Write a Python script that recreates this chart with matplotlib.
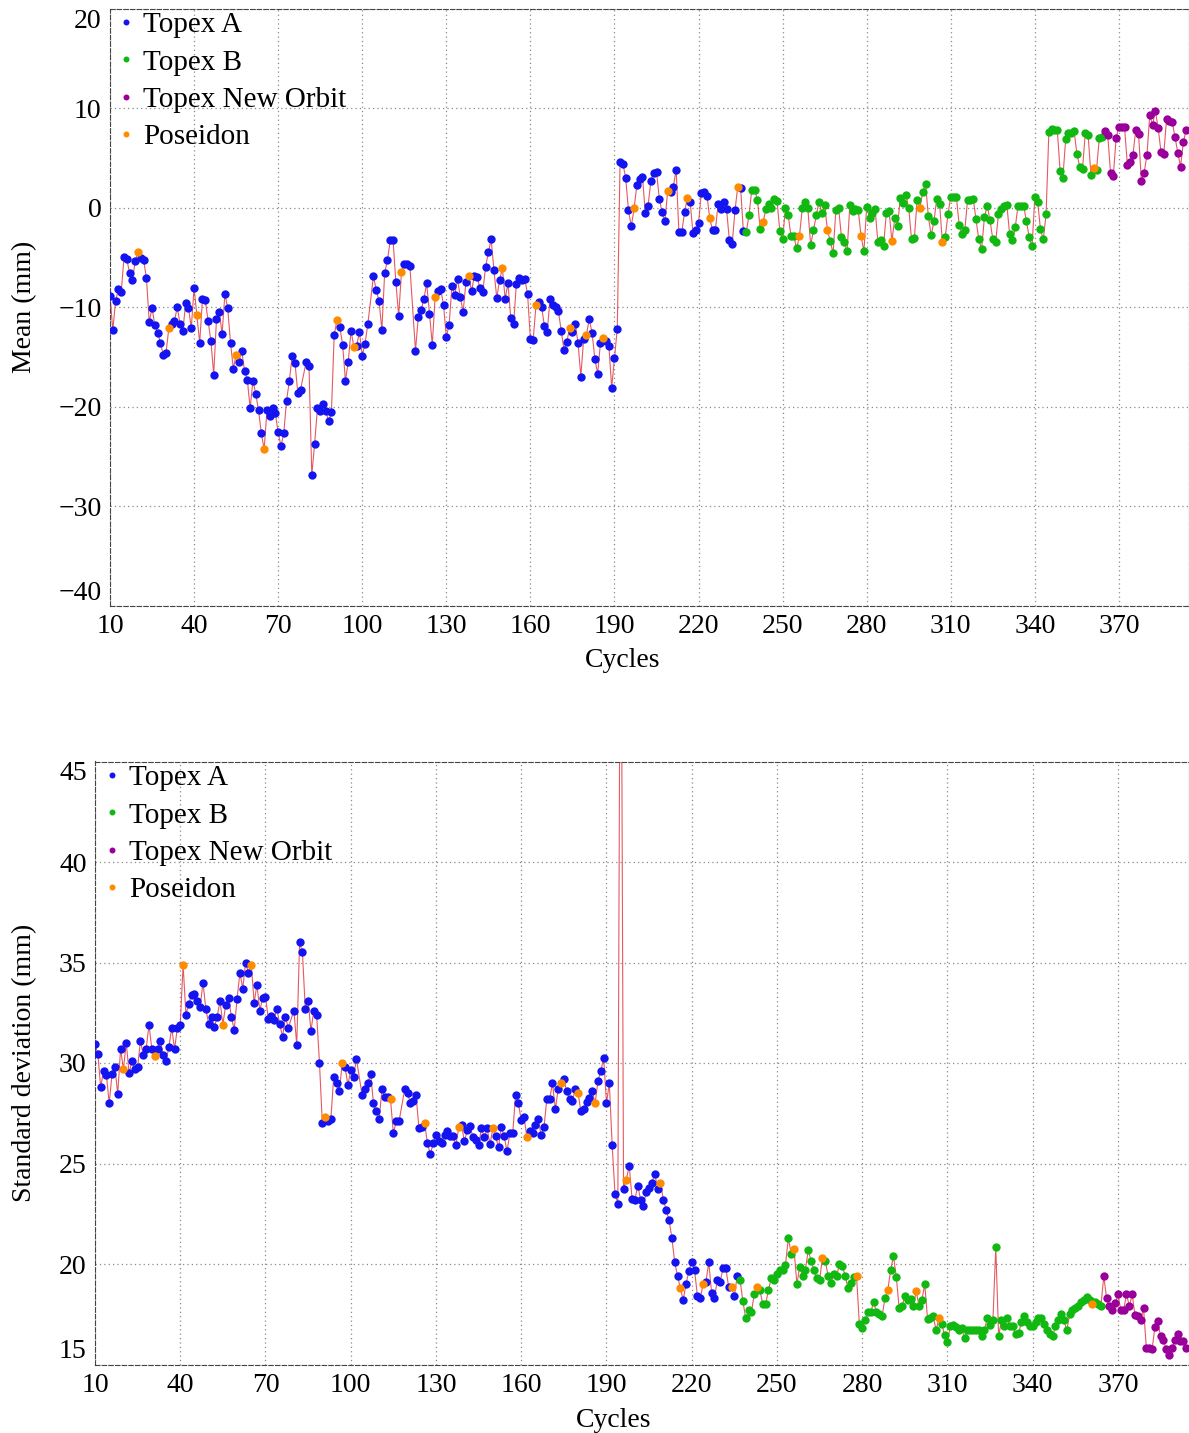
import numpy as np
import matplotlib
matplotlib.use('Agg')
import matplotlib.pyplot as plt
from matplotlib.lines import Line2D

plt.rcParams['font.family'] = ['Liberation Serif', 'DejaVu Serif']
plt.rcParams['axes.unicode_minus'] = True

# ---------------- data ----------------
cycles = np.arange(10, 395)

mean_mm = [
    -8.9, -12.3, -9.4, -8.2, -8.5, -5.0, -5.2, -6.6, -7.3, -5.4,
    -4.5, -5.1, -5.3, -7.1, -11.5, -10.1, -11.8, -12.6, -13.6, -14.8,
    -14.6, -12.1, -11.7, -11.4, -10.0, -11.7, -12.4, -9.6, -10.1, -12.1,
    -8.1, -10.8, -13.6, -9.2, -9.3, -11.4, -13.4, -16.8, -11.2, -10.5,
    -12.7, -8.7, -10.1, -13.6, -16.2, -14.8, -15.5, -14.4, -16.4, -17.3,
    -20.2, -17.4, -18.7, -20.4, -22.7, -24.3, -20.4, -21.0, -20.2, -20.7,
    -22.6, -24.0, -22.7, -19.4, -17.4, -14.9, -15.6, -18.6, -18.3, None,
    -15.5, -15.9, -26.9, -23.8, -20.2, -20.5, -19.7, -20.5, -21.5, -20.6,
    -12.8, -11.3, -12.0, -13.8, -17.4, -15.5, -12.4, -14.0, -13.9, -12.5,
    -14.9, -13.7, -11.7, None, -6.9, -8.3, -9.4, -12.3, -6.6, -5.3,
    -3.3, -3.3, -7.5, -10.9, -6.5, -5.7, -5.7, -5.9, None, -14.4,
    -11.0, -10.3, -9.2, -7.6, -10.7, -13.8, -9.0, -8.4, -8.2, -9.8,
    -13.0, -11.8, -7.9, -8.8, -7.2, -9.0, -10.5, -7.5, -6.9, -8.4,
    -6.9, -7.0, -8.1, -8.5, -6.0, -4.5, -3.2, -6.3, -9.1, -7.3,
    -6.1, -9.2, -7.6, -11.1, -11.7, -7.7, -7.1, -7.3, -7.2, -8.7,
    -13.2, -13.3, -9.8, -9.5, -10.0, -11.9, -12.5, -9.2, -9.8, -10.0,
    -10.4, -12.4, -14.3, -13.5, -12.1, -12.5, -11.7, -13.6, -17.0, -13.2,
    -12.8, -11.2, -12.6, -15.2, -16.7, -13.6, -13.1, -13.4, -13.9, -18.1,
    -15.1, -12.2, 4.6, 4.4, 3.0, -0.3, -1.9, -0.1, 2.3, 2.9,
    3.1, -0.6, 0.2, 2.7, 3.5, 3.6, 0.9, -0.5, -1.4, 1.7,
    1.6, 2.1, 3.8, -2.5, -2.5, -0.5, 1.0, 0.6, -2.6, -2.3,
    -1.6, 1.5, 1.6, 1.2, -1.1, -2.3, -2.3, 0.4, -0.2, 0.6,
    -0.2, -3.3, -3.7, -0.3, 2.1, 2.0, -2.4, -2.5, -0.8, 1.8,
    1.8, 0.8, -2.2, -1.5, -0.2, 0.4, -0.1, 0.9, 0.7, -2.4,
    -3.2, -0.1, -0.8, -2.9, -2.9, -4.1, -2.9, -0.1, 0.6, -0.1,
    -3.8, -2.3, -0.8, 0.6, -0.6, 0.3, -2.3, -3.4, -4.6, -0.3,
    -0.1, -3.0, -3.5, -4.4, 0.3, -0.4, -0.2, -0.3, -2.9, -4.4,
    0.1, -1.1, -0.6, -0.2, -3.5, -3.3, -3.9, -0.6, -0.4, -3.4,
    -1.1, -1.9, 1.0, 0.5, 1.3, -0.1, -3.2, -3.1, 0.8, 0.0,
    1.6, 2.4, -0.9, -2.8, -1.4, 0.9, 0.4, -3.5, -3.0, -0.7,
    1.1, 1.1, 1.1, -1.8, -2.7, -2.3, 0.8, 0.8, 0.9, -1.2,
    -3.2, -4.2, -1.0, 0.2, -1.3, -3.2, -3.5, -0.7, -0.2, 0.2,
    0.3, -2.7, -3.3, -2.0, 0.2, 0.2, 0.2, -1.4, -3.0, -3.9,
    1.1, 0.6, -2.2, -3.2, -0.7, 7.6, 7.9, 7.8, 7.8, 3.7,
    3.0, 6.9, 7.5, 7.5, 7.7, 5.4, 4.1, 3.9, 7.5, 7.3,
    3.3, 4.0, 3.8, 7.0, 7.1, 7.7, 7.3, 3.5, 3.2, 7.0,
    8.1, 8.1, 8.1, 4.3, 4.6, 5.3, 7.8, 7.4, 2.7, 3.5,
    5.3, 9.3, 8.3, 9.7, 8.0, 5.6, 5.4, 8.9, 8.7, 8.6,
    7.1, 5.5, 4.1, 6.6, 7.8,
]

std_mm = [
    30.95, 30.45, 28.8, 29.6, 29.4, 28.0, 29.45, 29.8, 28.45, 30.7,
    29.7, 31.0, 29.5, 30.1, 29.7, 29.8, 31.1, 30.4, 30.7, 31.9,
    30.7, 30.35, 30.7, 31.1, 30.4, 30.1, 30.8, 31.75, 30.7, 31.75,
    31.9, 34.9, 32.4, 32.95, 33.4, 33.45, 33.1, 32.8, 34.0, 32.7,
    31.95, 32.3, 31.8, 32.3, 33.1, 31.9, 32.9, 33.25, 32.3, 31.65,
    33.2, 34.5, 33.7, 35.0, 34.5, 34.9, 33.0, 33.9, 32.6, 33.25,
    33.3, 32.2, 32.35, 32.15, 32.7, 31.95, 31.3, 32.3, 31.75, None,
    32.6, 30.9, 36.0, 35.5, 32.7, 33.1, 31.6, 32.6, 32.4, 30.0,
    27.0, 27.3, 27.1, 27.2, 29.3, 29.0, 28.6, 30.0, 29.8, 28.9,
    29.65, 29.3, 30.2, None, 28.4, 28.7, 29.0, 29.45, 28.0, 27.6,
    27.2, 28.7, 28.3, 28.3, 28.2, 26.5, 27.1, 27.1, None, 28.7,
    28.5, 28.0, 28.1, 28.4, 26.75, 26.8, 27.0, 26.0, 25.45, 26.0,
    26.4, 26.1, 26.0, 26.4, 26.6, 26.35, 26.35, 25.9, 26.8, 26.9,
    26.1, 26.65, 26.85, 26.3, 26.15, 25.9, 26.75, 26.3, 26.75, 25.95,
    26.75, 26.35, 25.8, 26.8, 26.35, 25.6, 26.5, 26.5, 28.4, 28.0,
    27.15, 27.3, 26.3, 26.6, 26.5, 26.9, 27.2, 26.4, 26.8, 28.2,
    28.2, 29.0, 27.7, 28.7, 29.0, 29.2, 28.6, 28.2, 28.1, 28.7,
    28.5, 27.6, 27.7, 28.05, 28.25, 28.6, 28.0, 29.1, 29.6, 30.25,
    28.0, 29.0, 25.9, 23.5, 23.0, 60.0, 23.75, 24.2, 24.9, 23.25,
    23.2, 23.9, 23.2, 22.9, 23.6, 23.8, 24.05, 24.5, 23.75, 24.05,
    23.2, 22.7, 22.2, 21.3, 20.1, 19.4, 18.8, 18.2, 19.0, 19.65,
    20.1, 19.7, 18.4, 18.3, 19.0, 19.1, 20.1, 18.55, 18.3, 19.2,
    19.1, 19.8, 19.8, 18.85, 18.85, 18.4, 19.4, 19.2, 18.15, 17.3,
    17.7, 17.6, 18.5, 18.85, 18.7, 18.0, 18.0, 18.7, 19.3, 19.2,
    19.5, 19.7, 19.7, 19.95, 21.3, 20.5, 20.75, 19.0, 19.85, 19.4,
    19.7, 20.7, 20.15, 19.7, 19.3, 19.2, 20.3, 20.15, 19.4, 19.05,
    19.5, 19.4, 20.0, 19.9, 19.4, 18.8, 19.05, 19.35, 19.4, 17.0,
    16.8, 17.2, 17.6, 17.6, 18.1, 17.6, 17.5, 17.4, 18.3, 18.7,
    19.7, 20.4, 19.35, 17.8, 17.9, 18.4, 18.2, 18.25, 17.9, 18.65,
    17.9, 18.2, 19.0, 17.25, 17.3, 17.4, 16.7, 17.3, 17.0, 16.45,
    16.1, 16.9, 16.95, 16.85, 16.7, 16.8, 16.3, 16.7, 16.7, 16.7,
    16.7, 16.7, 16.4, 16.7, 17.3, 16.95, 17.2, 20.85, 16.4, 17.2,
    16.9, 17.3, 16.9, 16.9, 16.5, 16.55, 17.1, 17.4, 17.1, 16.9,
    16.9, 17.1, 17.3, 17.3, 17.0, 16.7, 16.5, 16.4, 16.9, 17.2,
    17.5, 17.2, 16.7, 17.5, 17.7, 17.8, 17.9, 18.1, 18.2, 18.35,
    18.2, 18.0, 18.1, 18.0, 17.9, 19.4, 18.3, 17.9, 17.7, 18.05,
    18.5, 17.7, 17.7, 18.5, 17.9, 18.5, 17.45, 17.4, 17.2, 17.8,
    15.8, 15.8, 15.75, 16.85, 17.15, 16.4, 16.2, 15.75, 15.45, 15.8,
    16.2, 16.5, 16.15, 16.15, 15.8,
]

poseidon_cycles = [20, 31, 41, 55, 65, 91, 97, 114, 126, 138, 150, 162, 174,
                   180, 186, 197, 209, 216, 224, 234, 243, 256, 266, 278, 289,
                   299, 307, 361]
topex_b_first = 237
new_orbit_first = 365

series_names = ['Topex A', 'Topex B', 'Topex New Orbit', 'Poseidon']
series_colors = ['#1414f0', '#12b812', '#990099', '#ff8c00']
line_color = '#e0303a'

cycle_ticks = [10, 40, 70, 100, 130, 160, 190, 220, 250, 280, 310, 340, 370]
mean_ticks = [-40, -30, -20, -10, 0, 10, 20]
std_ticks = [15, 20, 25, 30, 35, 40, 45]

# mission label for each cycle
mission = np.where(cycles >= new_orbit_first, 'Topex New Orbit',
                   np.where(cycles >= topex_b_first, 'Topex B', 'Topex A')).astype(object)
mission[np.isin(cycles, poseidon_cycles)] = 'Poseidon'

# ---------------- figure ----------------
W, H = 1189, 1433
fig = plt.figure(figsize=(W / 100, H / 100), dpi=100)

ax1 = fig.add_axes([110 / W, 1 - 605.5 / H, (W - 110) / W, 597 / H])
ax2 = fig.add_axes([95 / W, 1 - 1364.5 / H, (W - 95) / W, 603 / H])

FS = 20
LFS = 21


def panel(ax, values, yticks, ylim, legend_xy):
    v = np.array([np.nan if x is None else x for x in values], dtype=float)
    ok = ~np.isnan(v)
    c, vv, lab = cycles[ok], v[ok], mission[ok]
    ax.plot(c, vv, color=line_color, lw=0.8, alpha=0.8, zorder=2)
    for name, col in zip(series_names, series_colors):
        m = lab == name
        ax.plot(c[m], vv[m], 'o', ms=6.0, mew=0, color=col, zorder=3)
    ax.set_xlim(10, 395)
    ax.set_ylim(*ylim)
    ax.set_xticks(cycle_ticks)
    ax.set_yticks(yticks)
    ax.tick_params(length=0, labelsize=FS, pad=6)
    ax.grid(True, color='#8a8a8a', linestyle=(0, (1, 2.5)), linewidth=0.9)
    ax.set_axisbelow(True)
    for s in ax.spines.values():
        s.set_linestyle((0, (4, 2)))
        s.set_color('#444444')
        s.set_linewidth(0.8)
    labels = ax.get_yticklabels()
    labels[-1].set_verticalalignment('top')
    labels[0].set_verticalalignment('bottom')
    handles = [Line2D([], [], ls='none', marker='o', ms=4.3, mew=0, color=col)
               for col in series_colors]
    ax.legend(handles, series_names, loc='upper left',
              bbox_to_anchor=legend_xy, frameon=False, fontsize=LFS,
              borderaxespad=0, borderpad=0, handlelength=0.6,
              handletextpad=0.28, labelspacing=0.37)


panel(ax1, mean_mm, mean_ticks, (-40, 20), (0.0067, 0.9941))
panel(ax2, std_mm, std_ticks, (15, 45), (0.0075, 0.9941))

fig.text(25 / W, 1 - 307 / H, 'Mean (mm)', rotation=90, ha='center',
         va='center', fontsize=FS)
fig.text(25 / W, 1 - 1063 / H, 'Standard deviation (mm)', rotation=90,
         ha='center', va='center', fontsize=FS)
fig.text(623 / W, 1 - 667 / H, 'Cycles', ha='center', va='baseline', fontsize=FS)
fig.text(614 / W, 1 - 1427 / H, 'Cycles', ha='center', va='baseline', fontsize=FS)

fig.savefig('out.png', dpi=100)
